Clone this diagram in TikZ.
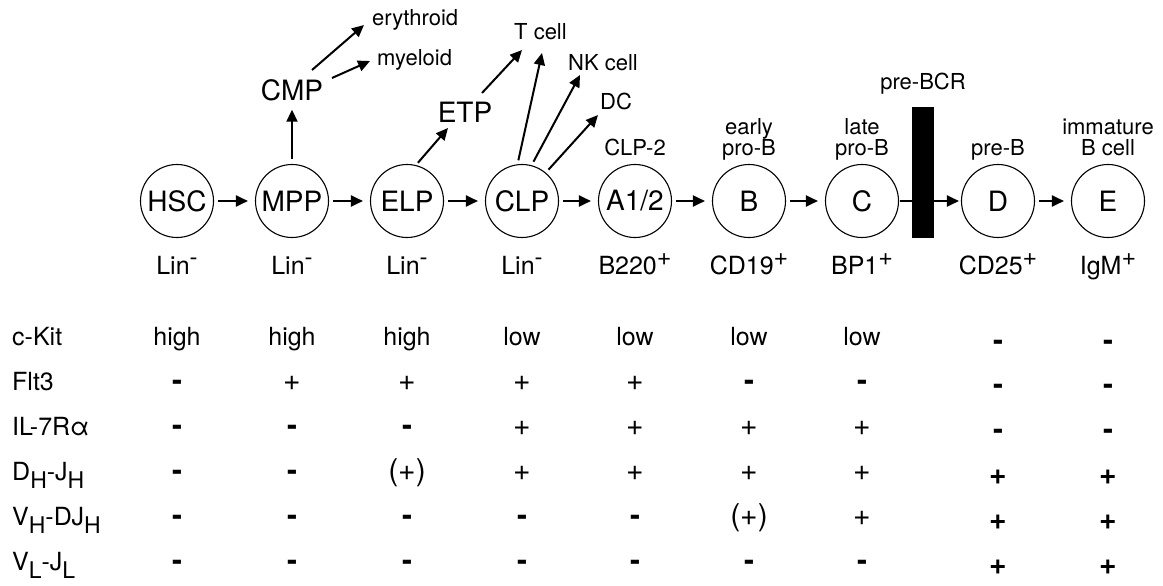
\documentclass[tikz,border=0pt]{standalone}
\usepackage{fontspec}
\setmainfont{TeX Gyre Heros}
\usetikzlibrary{arrows.meta}
\newcommand{\lowsub}[1]{\raisebox{-8pt}{\fontsize{23}{23}\selectfont #1}}
\newcommand{\upminus}{\raisebox{9pt}{\fontsize{24}{24}\selectfont -}}
\newcommand{\upplus}{\raisebox{9pt}{\fontsize{25}{25}\selectfont +}}
\newcommand{\mn}{\textbf{-}}
\def\colxs{{177,292,407,522,635,749,862,998,1108}}
\begin{document}
\begin{tikzpicture}[x=1pt,y=-1pt,
  cell/.style={circle,draw,line width=1.1pt,minimum size=73pt,inner sep=0pt,font=\fontsize{28}{28}\selectfont},
  arr/.style={line width=2pt,-{Triangle[length=12pt,width=11pt]}},
  small/.style={inner sep=0pt,font=\fontsize{22}{22}\selectfont},
  big/.style={inner sep=0pt,font=\fontsize{28}{28}\selectfont},
  tab/.style={inner sep=0pt,font=\fontsize{25}{25}\selectfont},
  sign/.style={inner sep=0pt,font=\fontsize{30}{30}\selectfont},
  boldsign/.style={inner sep=0pt,font=\fontsize{30}{30}\selectfont\bfseries}]
\useasboundingbox (0,0) rectangle (1163,586);

% lineage chain
\node[cell] (hsc) at (177,201) {HSC};
\node[cell] (mpp) at (292,201) {MPP};
\node[cell] (elp) at (407,201) {ELP};
\node[cell] (clp) at (522,201) {CLP};
\node[cell] (a12) at (635,201) {A1/2};
\node[cell] (b)   at (749,201) {B};
\node[cell] (c)   at (862,201) {C};
\node[cell] (d)   at (998,201) {D};
\node[cell] (e)   at (1108,201) {E};

\foreach \u/\v in {hsc/mpp,mpp/elp,elp/clp,clp/a12,a12/b,b/c,d/e}
  \draw[arr,shorten <=4pt,shorten >=7pt] (\u) -- (\v);
\draw[arr,shorten <=1pt,shorten >=2pt] (c) -- (d);

% pre-BCR checkpoint
\node[fill=black,minimum width=22pt,minimum height=131pt,inner sep=0pt] (bcr) at (923,172.5) {};
\node[small,anchor=base] (prebcr) at (923,89) {pre-BCR};

% stage names above the B-lineage cells
\node[small,anchor=base] (clp2)  at (635,155) {CLP-2};
\node[small,anchor=base] (early) at (749,134) {early};
\node[small,anchor=base] (prob1) at (749,155) {pro-B};
\node[small,anchor=base] (late)  at (862,134) {late};
\node[small,anchor=base] (prob2) at (862,155) {pro-B};
\node[small,anchor=base] (preb)  at (998,155) {pre-B};
\node[small,anchor=base] (imm)   at (1108,134) {immature};
\node[small,anchor=base] (bcell) at (1108,155) {B cell};

% surface markers below the cells
\node[tab,anchor=base] (m1) at (177,274) {Lin\upminus};
\node[tab,anchor=base] (m2) at (292,274) {Lin\upminus};
\node[tab,anchor=base] (m3) at (407,274) {Lin\upminus};
\node[tab,anchor=base] (m4) at (522,274) {Lin\upminus};
\node[tab,anchor=base] (m5) at (635,274) {B220\upplus};
\node[tab,anchor=base] (m6) at (749,274) {CD19\upplus};
\node[tab,anchor=base] (m7) at (862,274) {BP1\upplus};
\node[tab,anchor=base] (m8) at (998,274) {CD25\upplus};
\node[tab,anchor=base] (m9) at (1108,274) {IgM\upplus};

% branching fates
\node[big,anchor=base] (cmp) at (292,100) {CMP};
\node[small,anchor=base west] (ery) at (372,26) {erythroid};
\node[small,anchor=base west] (mye) at (377,66) {myeloid};
\node[big,anchor=base] (etp) at (465,122) {ETP};
\node[small,anchor=base west] (tcell) at (514,40) {T cell};
\node[small,anchor=base west] (nk) at (568,71) {NK cell};
\node[small,anchor=base west] (dc) at (600,110) {DC};

\coordinate (cmpA) at (312,70);  \coordinate (eryT) at (364,25);
\coordinate (cmpB) at (332,78);  \coordinate (myeT) at (370,61);
\coordinate (etpT) at (448,128);
\coordinate (etpA) at (482,93);  \coordinate (tT1) at (522,50);
\coordinate (tT2) at (542,53);
\coordinate (nkT) at (580,75);
\coordinate (dcT) at (598,115);

\draw[arr,shorten <=5pt,shorten >=9pt] (mpp) -- (cmp);
\draw[arr] (cmpA) -- (eryT);
\draw[arr] (cmpB) -- (myeT);
\draw[arr,shorten <=3pt] (elp.76) -- (etpT);
\draw[arr] (etpA) -- (tT1);
\draw[arr,shorten <=4pt] (clp.97) -- (tT2);
\draw[arr,shorten <=4pt] (clp.75) -- (nkT);
\draw[arr,shorten <=4pt] (clp.50) -- (dcT);

% expression table
\node[tab,anchor=base west] (lk) at (12,345) {c-Kit};
\node[tab,anchor=base west] (lf) at (12,390) {Flt3};
\node[tab,anchor=base west] (li) at (12,435) {IL-7Rα};
\node[tab,anchor=base west] (ld) at (12,480) {D\lowsub{H}-J\lowsub{H}};
\node[tab,anchor=base west] (lv) at (12,525) {V\lowsub{H}-DJ\lowsub{H}};
\node[tab,anchor=base west] (ll) at (12,570) {V\lowsub{L}-J\lowsub{L}};

\foreach \v [count=\i] in {high,high,high,low,low,low,low}{
  \pgfmathsetmacro{\cx}{\colxs[\i-1]}
  \node[tab,anchor=base] (kit\i) at (\cx,345) {\v};
}
\node[boldsign,anchor=base] (kit8) at (998,350) {-};
\node[boldsign,anchor=base] (kit9) at (1108,350) {-};
\foreach \row/\yy in {1/390,2/435,3/480,4/525,5/570}{
  \ifcase\row\or
    \def\vals{\mn,+,+,+,+,\mn,\mn,\mn,\mn}\or
    \def\vals{\mn,\mn,\mn,+,+,+,+,\mn,\mn}\or
    \def\vals{\mn,\mn,(+),+,+,+,+,+,+}\or
    \def\vals{\mn,\mn,\mn,\mn,\mn,(+),+,+,+}\or
    \def\vals{\mn,\mn,\mn,\mn,\mn,\mn,\mn,+,+}\fi
  \foreach \v [count=\i] in \vals{
    \pgfmathsetmacro{\cx}{\colxs[\i-1]}
    \ifnum\i>7
      \node[boldsign,anchor=base] (s\row-\i) at (\cx,\yy+4) {\v};
    \else
      \node[sign,anchor=base] (s\row-\i) at (\cx,\yy) {\v};
    \fi
  }
}
\end{tikzpicture}
\end{document}
